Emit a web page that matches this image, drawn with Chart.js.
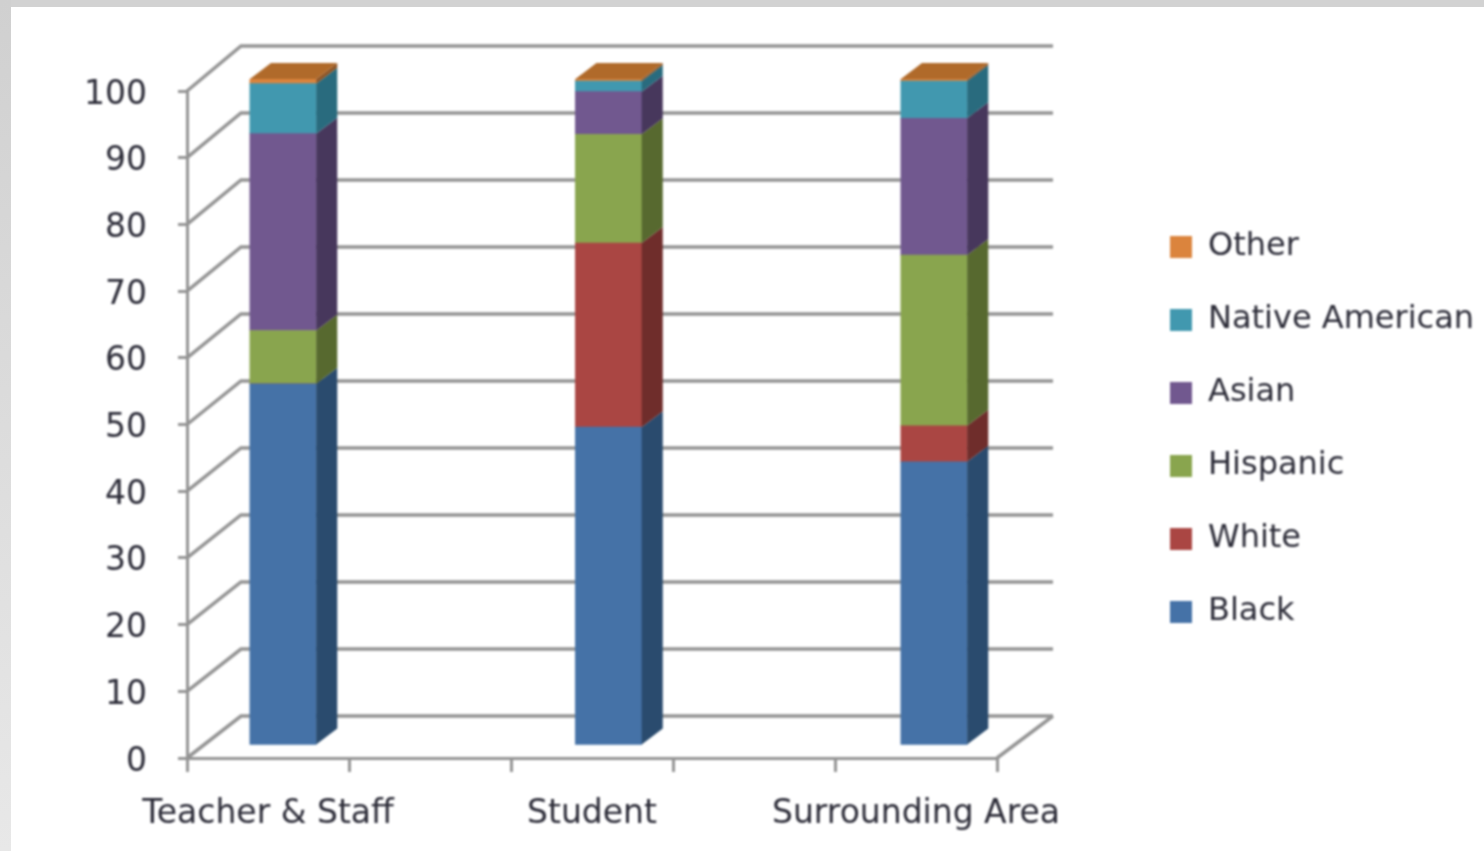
<!DOCTYPE html>
<html>
<head>
<meta charset="utf-8">
<title>Chart</title>
<script src="https://cdn.jsdelivr.net/npm/chart.js@4/dist/chart.umd.min.js"></script>
<style>
  html, body { margin: 0; padding: 0; background: #fff; overflow: hidden; }
  #topBand { position: absolute; left: 0; top: 0; width: 1484px; height: 7px; background: #d2d2d2; }
  #leftBand { position: absolute; left: 0; top: 0; width: 11px; height: 851px; background: linear-gradient(#d0d0d0, #e8e8e8); }
  #chartBox { position: absolute; left: 0; top: 0; width: 1484px; height: 851px; filter: blur(0.9px); }
</style>
</head>
<body>
<div id="topBand"></div>
<div id="leftBand"></div>
<div id="chartBox"><canvas id="chart" width="1484" height="851"></canvas></div>
<script>
// blanks keep the five tick cells the original axis has
const categories = ['Teacher & Staff', '', 'Student', '', 'Surrounding Area'];
const black = [54.3, null, 47.8, null, 42.6];
const white = [0, null, 27.6, null, 5.4];
const hispanic = [8, null, 16.3, null, 25.6];
const asian = [29.5, null, 6.4, null, 20.5];
const nativeAmerican = [7.5, null, 1.6, null, 5.6];
const other = [0.7, null, 0.3, null, 0.3];

const seriesNames = ['Black', 'White', 'Hispanic', 'Asian', 'Native American', 'Other'];
const seriesValues = [black, white, hispanic, asian, nativeAmerican, other];
const frontColors = ['#4572a7', '#aa4643', '#89a54e', '#71588f', '#4198af', '#db843d'];
const sideColors = ['#2a4b6e', '#6f2d2b', '#57692f', '#47375c', '#296b7e', '#8e5526'];
const topColor = '#b06a2a';
const lineColor = '#949494';
const textColor = '#2c2c38';

const tickFont = { family: 'DejaVu Sans', size: 33 };
const legendFont = { family: 'DejaVu Sans', size: 32 };

// floor depth of the walls and of the bars
const wallX = 54, wallY = -42, wallStretch = -0.03;
const barX = 21, barY = -16;
const barShiftX = 13.8, barShiftY = -12, barStretch = 1.0046;

const fakeDepth = {
  id: 'fakeDepth',
  beforeLayout(chart) {
    const legend = chart.legend;
    if (!legend.fitWrapped) {
      const fit = legend.fit;
      legend.fit = function () { fit.call(this); this.width = 487; };
      legend.fitWrapped = true;
    }
  },
  afterLayout(chart) {
    const legend = chart.legend;
    legend.left = 1129;
    legend.right = 1484;
    legend.top = 190;
  },
  beforeDatasetsDraw(chart) {
    const ctx = chart.ctx;
    const y = chart.scales.y;
    const x = chart.scales.x;
    ctx.save();
    ctx.strokeStyle = lineColor;
    ctx.lineWidth = 3.5;
    y.ticks.forEach(t => {
      const py = y.getPixelForValue(t.value);
      const backY = py + wallY + t.value * wallStretch;
      ctx.beginPath();
      ctx.moveTo(x.left, py);
      ctx.lineTo(x.left + wallX, backY);
      ctx.lineTo(x.right + wallX + 2, backY);
      ctx.stroke();
    });
    const y0 = y.getPixelForValue(0);
    ctx.beginPath();
    ctx.moveTo(x.right, y0);
    ctx.lineTo(x.right + wallX + 2, y0 + wallY);
    ctx.stroke();
    ctx.restore();

    ctx.save();
    ctx.translate(barShiftX, barShiftY);
    ctx.scale(barStretch, 1);
  },
  afterDatasetsDraw(chart) {
    const ctx = chart.ctx;
    chart.data.datasets.forEach((ds, i) => {
      chart.getDatasetMeta(i).data.forEach(bar => {
        if (bar.skip || !bar.height) return;
        const right = bar.x + bar.width / 2;
        ctx.fillStyle = sideColors[i];
        ctx.beginPath();
        ctx.moveTo(right, bar.base);
        ctx.lineTo(right + barX, bar.base + barY);
        ctx.lineTo(right + barX, bar.y + barY);
        ctx.lineTo(right, bar.y);
        ctx.closePath();
        ctx.fill();
        if (i === chart.data.datasets.length - 1) {
          const left = bar.x - bar.width / 2;
          ctx.fillStyle = topColor;
          ctx.beginPath();
          ctx.moveTo(left, bar.y);
          ctx.lineTo(left + barX, bar.y + barY);
          ctx.lineTo(right + barX, bar.y + barY);
          ctx.lineTo(right, bar.y);
          ctx.closePath();
          ctx.fill();
        }
      });
    });
    ctx.restore();
  }
};

new Chart(document.getElementById('chart').getContext('2d'), {
  type: 'bar',
  data: {
    labels: categories,
    datasets: seriesNames.map((name, i) => ({
      label: name,
      data: seriesValues[i],
      backgroundColor: frontColors[i],
      borderWidth: 0,
      barThickness: 66
    }))
  },
  options: {
    responsive: false,
    animation: false,
    devicePixelRatio: 1,
    layout: { padding: { top: 91, left: 0, right: 0, bottom: 0 } },
    plugins: {
      tooltip: { enabled: false },
      legend: {
        position: 'right',
        align: 'start',
        reverse: true,
        labels: {
          color: textColor,
          font: legendFont,
          boxWidth: 22,
          boxHeight: 22,
          padding: 41
        }
      }
    },
    scales: {
      x: {
        stacked: true,
        afterFit(scale) { scale.height = 93; },
        border: { color: lineColor, width: 3 },
        grid: { drawOnChartArea: false, color: lineColor, lineWidth: 3, tickLength: 14, offset: true },
        ticks: { color: textColor, font: tickFont, autoSkip: false, maxRotation: 0, minRotation: 0, padding: 23 }
      },
      y: {
        stacked: true,
        min: 0,
        max: 100,
        afterFit(scale) { scale.width = 187; },
        border: { color: lineColor, width: 3 },
        grid: { drawOnChartArea: false, color: lineColor, lineWidth: 3, tickLength: 9 },
        ticks: { color: textColor, font: tickFont, stepSize: 10, padding: 31, labelOffset: 4 }
      }
    }
  },
  plugins: [fakeDepth]
});
</script>
</body>
</html>
